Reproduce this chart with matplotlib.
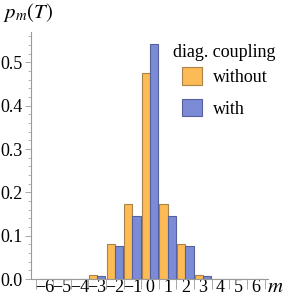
import numpy as np
import matplotlib
matplotlib.use("Agg")
import matplotlib.pyplot as plt
from matplotlib.patches import Patch

plt.rcParams['font.family'] = ['Liberation Serif', 'DejaVu Serif']
plt.rcParams['mathtext.fontset'] = 'stix'

# data
m_vals = [-6, -5, -4, -3, -2, -1, 0, 1, 2, 3, 4, 5, 6]
p_without = [0.0, 0.0, 0.0005, 0.009, 0.0815, 0.173, 0.475, 0.173, 0.0815, 0.009, 0.0005, 0.0, 0.0]
p_with = [0.0, 0.0, 0.0003, 0.007, 0.076, 0.146, 0.543, 0.146, 0.076, 0.007, 0.0003, 0.0, 0.0]
y_ticks = [0.0, 0.1, 0.2, 0.3, 0.4, 0.5]
series_names = ["without", "with"]
legend_title = "diag. coupling"

ORANGE = "#fdbb55"
ORANGE_EDGE = "#a8834a"
BLUE = "#7b8bd6"
BLUE_EDGE = "#56609c"
GREY = "#9a9a9a"
FS = 13

fig = plt.figure(figsize=(2.92, 3.0), dpi=100)
ax = fig.add_axes([0.106, 0.07, 0.812, 0.823])

x = np.array(m_vals)
w = 0.47
ax.bar(x - w / 2, p_without, width=w, color=ORANGE, edgecolor=ORANGE_EDGE, linewidth=0.8)
ax.bar(x + w / 2, p_with, width=w, color=BLUE, edgecolor=BLUE_EDGE, linewidth=0.8)

ax.set_xlim(-6.76, 6.7)
ax.set_ylim(0, 0.57)

for s in ['top', 'right']:
    ax.spines[s].set_visible(False)
for s in ['left', 'bottom']:
    ax.spines[s].set_color(GREY)
    ax.spines[s].set_linewidth(0.8)

# y ticks
ax.set_yticks(y_ticks)
ax.set_yticklabels([f"{v:.1f}" for v in y_ticks])
ax.set_yticks(np.arange(0, 0.57, 0.02), minor=True)
ax.tick_params(axis='y', which='major', length=4, width=0.6, color=GREY, labelsize=FS, pad=2)
ax.tick_params(axis='y', which='minor', length=2, width=0.5, color=GREY)

# x: separators between groups, labels at centres
ax.set_xticks(np.arange(-6.5, 7, 1.0))
ax.set_xticklabels([])
ax.tick_params(axis='x', which='major', length=7, width=0.6, color=GREY)
ax.set_xticks(x, minor=True)
ax.set_xticklabels([str(v).replace('-', '\u2212') for v in m_vals], minor=True)
ax.tick_params(axis='x', which='minor', length=0, labelsize=FS, pad=0)

fig.text(0.097, 0.958, r"$p_m(T)$", fontsize=15, ha='center', va='center')
fig.text(0.942, 0.043, r"$m$", fontsize=15, ha='center', va='center')

fig.text(0.592, 0.826, legend_title, fontsize=FS, ha='left', va='center')
handles = [Patch(facecolor=ORANGE, edgecolor=ORANGE_EDGE, linewidth=0.8),
           Patch(facecolor=BLUE, edgecolor=BLUE_EDGE, linewidth=0.8)]
leg = fig.legend(handles, series_names, loc='upper left',
                 bbox_to_anchor=(0.623, 0.775), frameon=False, fontsize=FS,
                 handlelength=1.1, handleheight=1.1,
                 handletextpad=0.6, labelspacing=0.7, borderpad=0,
                 borderaxespad=0)

fig.savefig("out.png", dpi=100)
